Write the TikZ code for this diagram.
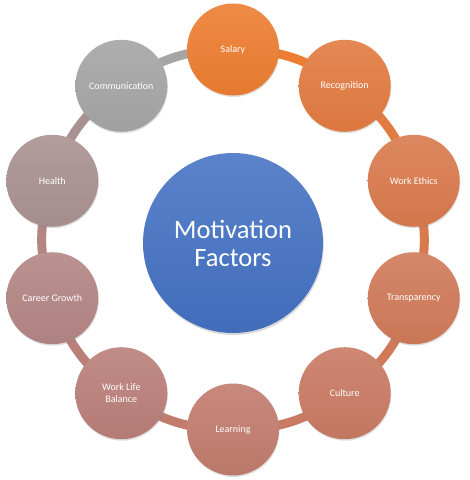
\documentclass[tikz,border=0pt]{standalone}
\usepackage{fontspec}
\setmainfont{Carlito}
\usepackage{tikz}
\usetikzlibrary{
    positioning,
    backgrounds,
    shadows
}
\definecolor{salarycol}{HTML}{ED7D31}
\definecolor{recogcol}{HTML}{E27B41}
\definecolor{ethicscol}{HTML}{D97A4E}
\definecolor{transpcol}{HTML}{D07A59}
\definecolor{culturecol}{HTML}{C97A63}
\definecolor{learncol}{HTML}{C17C6E}
\definecolor{balancecol}{HTML}{BA7F79}
\definecolor{careercol}{HTML}{B38684}
\definecolor{healthcol}{HTML}{AA9191}
\definecolor{commcol}{HTML}{A5A5A5}
\definecolor{corecol}{HTML}{4472C4}
\tikzstyle{factor} = [
    circle,
    minimum size=92pt,
    inner sep=0pt,
    align=center,
    text=white,
    font=\fontsize{10}{11.5}\selectfont,
    drop shadow={opacity=0.25, shadow xshift=0.6pt, shadow yshift=-1.5pt}
]
\tikzstyle{core} = [
    circle,
    minimum size=180pt,
    inner sep=0pt,
    align=center,
    text=white,
    top color=corecol!88!white,
    bottom color=corecol!95!black,
    font=\fontsize{26.5}{29}\selectfont,
    drop shadow={opacity=0.3, shadow xshift=0.8pt, shadow yshift=-2pt}
]
\tikzstyle{ring} = [
    line width=9pt
]
\tikzset{tint/.style={top color=#1!90!white, bottom color=#1!97!black}}

\begin{document}
\begin{tikzpicture}
        \useasboundingbox (-233pt,-240.5pt) rectangle (237pt,239.5pt);

        % Core
        \node[core] (motiv) at (0pt,-3.5pt) {Motivation\\[-1pt]Factors};

        % Factors round the ring
        \node[factor, tint=salarycol] (salary) at (90:190pt) {Salary};
        \node[factor, tint=recogcol] (recog) at (54:190pt) {Recognition};
        \node[factor, tint=ethicscol] (ethics) at (18:190pt) {Work Ethics};
        \node[factor, tint=transpcol] (transp) at (-18:190pt) {Transparency};
        \node[factor, tint=culturecol] (culture) at (-54:190pt) {Culture};
        \node[factor, tint=learncol] (learn) at (-90:190pt) {Learning};
        \node[factor, tint=balancecol] (balance) at (-126:190pt) {Work Life\\Balance};
        \node[factor, tint=careercol] (career) at (-162:190pt) {Career Growth};
        \node[factor, tint=healthcol] (health) at (162:190pt) {Health};
        \node[factor, tint=commcol] (comm) at (126:190pt) {Communication};

        % Ring
        \begin{scope}[on background layer]
            \draw[ring, salarycol] (salary.center) to[bend left=18] (recog.center);
            \draw[ring, recogcol] (recog.center) to[bend left=18] (ethics.center);
            \draw[ring, ethicscol] (ethics.center) to[bend left=18] (transp.center);
            \draw[ring, transpcol] (transp.center) to[bend left=18] (culture.center);
            \draw[ring, culturecol] (culture.center) to[bend left=18] (learn.center);
            \draw[ring, learncol] (learn.center) to[bend left=18] (balance.center);
            \draw[ring, balancecol] (balance.center) to[bend left=18] (career.center);
            \draw[ring, careercol] (career.center) to[bend left=18] (health.center);
            \draw[ring, healthcol] (health.center) to[bend left=18] (comm.center);
            \draw[ring, commcol] (comm.center) to[bend left=18] (salary.center);
        \end{scope}
    \end{tikzpicture}
\end{document}
